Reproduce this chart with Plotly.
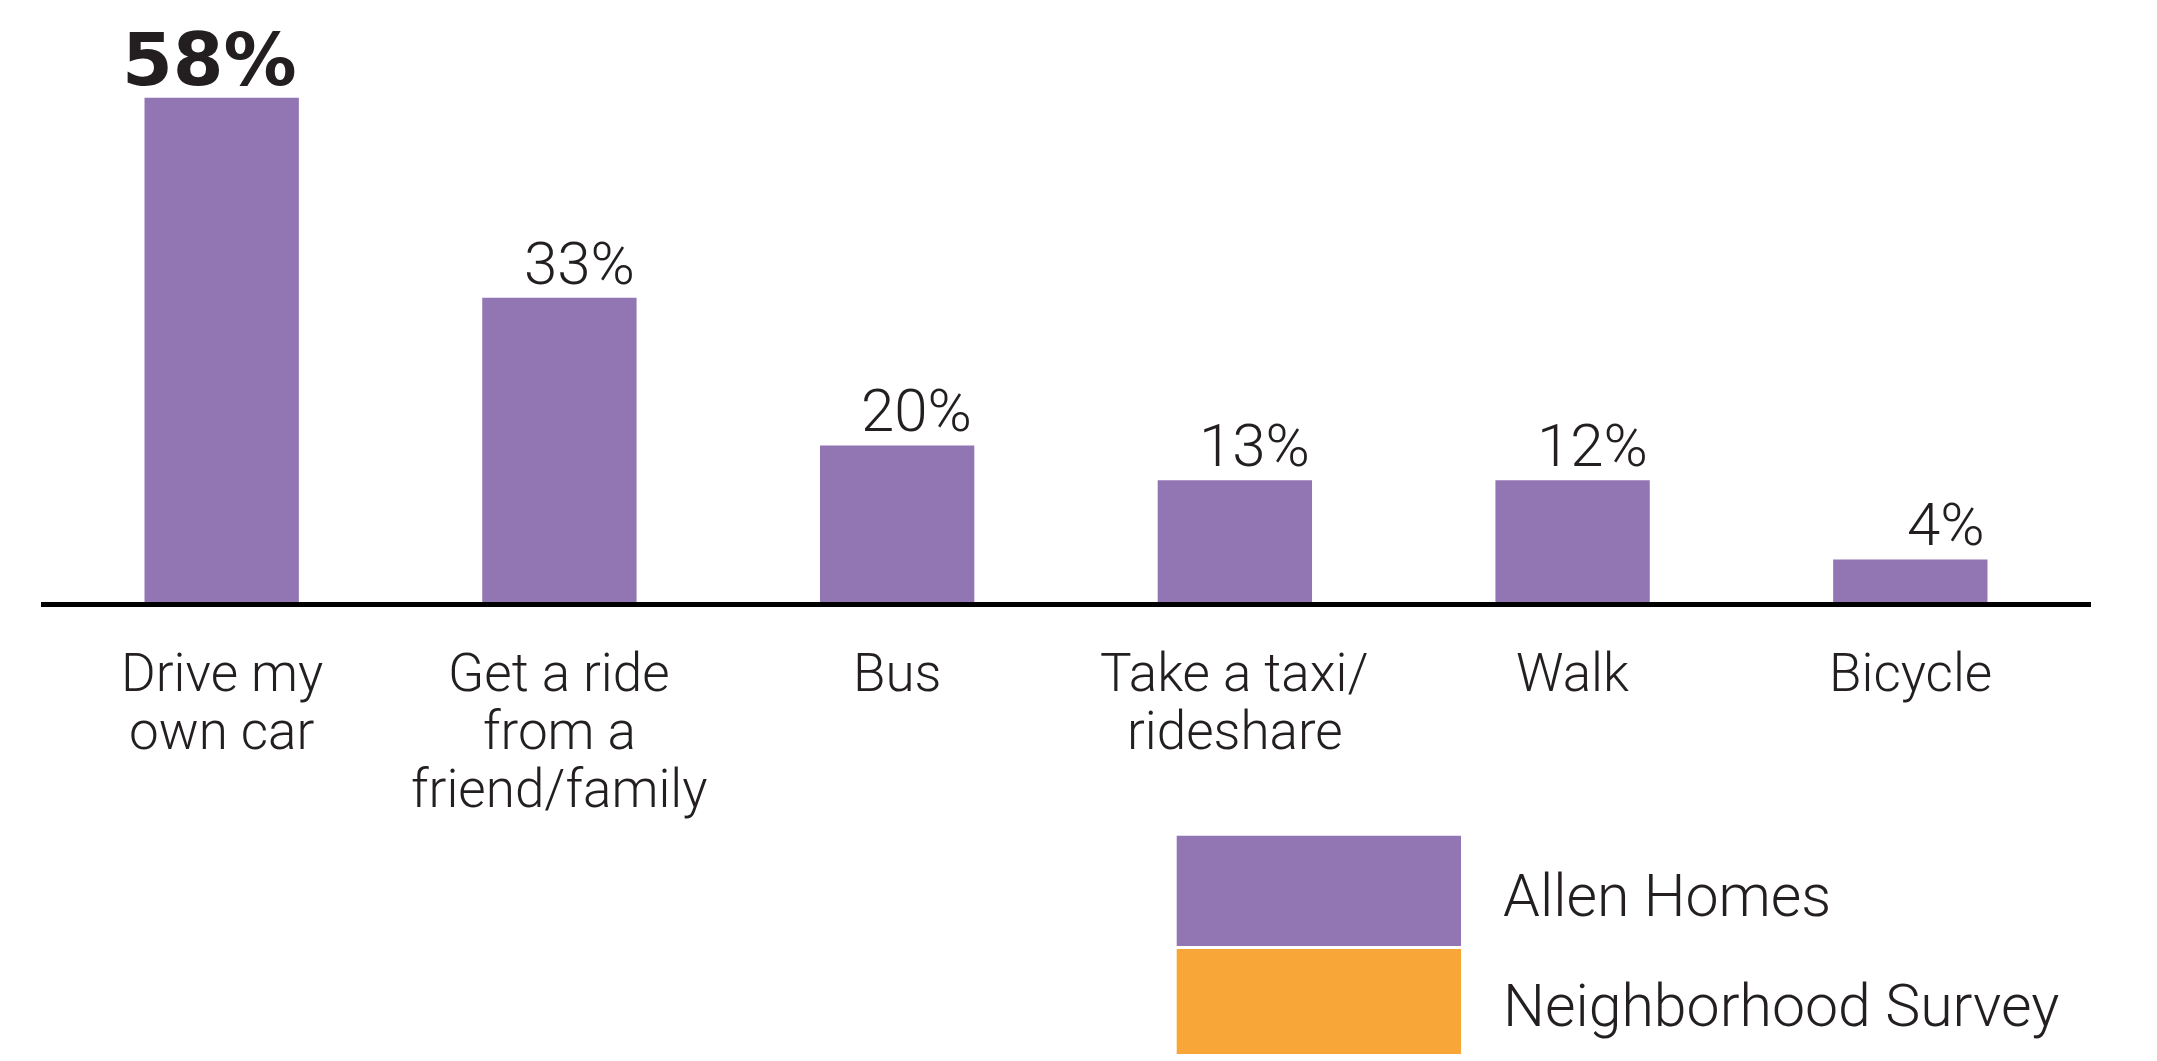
import plotly.graph_objects as go

# categories and values
categories = ["Drive my<br>own car", "Get a ride<br>from a<br>friend/family", "Bus",
              "Take a taxi/<br>rideshare", "Walk", "Bicycle"]
bar_heights = [58, 35, 18, 14, 14, 4.9]   # drawn heights (as measured on the picture)
value_labels = ["58%", "33%", "20%", "13%", "12%", "4%"]
legend_names = ["Allen Homes", "Neighborhood Survey"]

PURPLE = "#9275B3"
ORANGE = "#F9A638"
INK = "#231F20"
FONT = "Roboto"
BAR_W = 0.457

fig = go.Figure()

fig.add_trace(go.Bar(
    x=list(range(len(categories))),
    y=bar_heights,
    width=BAR_W,
    marker=dict(color=PURPLE, line=dict(width=0)),
    showlegend=False,
    hoverinfo="skip"
))

# value labels, right aligned to the bar edge; the first one is the headline
for i, (h, lab) in enumerate(zip(bar_heights, value_labels)):
    if i == 0:
        font = dict(family="DejaVu Sans", size=73, color=INK, weight=700)
        txt, shift = f"<b>{lab}</b>", -6
    else:
        font = dict(family=FONT, size=60, color=INK, weight=300)
        txt, shift = lab, -3
    fig.add_annotation(
        x=i + BAR_W / 2, y=h, xref="x", yref="y",
        text=txt, showarrow=False, xanchor="right", yanchor="bottom",
        yshift=shift, font=font,
    )

# category labels, one annotation per line for tight leading
for i, cat in enumerate(categories):
    for j, line in enumerate(cat.split("<br>")):
        fig.add_annotation(
            x=i, y=0, xref="x", yref="y",
            text=line, showarrow=False, xanchor="center", yanchor="middle",
            yshift=-71 - 58 * j,
            font=dict(family=FONT, size=53, color=INK, weight=300),
        )

# legend drawn as large swatches
legend_colors = [PURPLE, ORANGE]
box_y = [(-0.395, -0.581), (-0.586, -0.7635)]
for name, col, (y0, y1) in zip(legend_names, legend_colors, box_y):
    fig.add_shape(type="rect", xref="paper", yref="paper",
                  x0=0.554, x1=0.6927, y0=y1, y1=y0,
                  fillcolor=col, line=dict(width=0))
    fig.add_annotation(
        x=0.712, y=(y0 + y1) / 2 - 0.007, xref="paper", yref="paper",
        text=name, showarrow=False, xanchor="left", yanchor="middle",
        font=dict(family=FONT, size=59, color=INK, weight=300),
    )

fig.update_layout(
    width=2157, height=1061,
    margin=dict(l=41, r=66, t=10, b=459),
    paper_bgcolor="white",
    plot_bgcolor="white",
    bargap=0.543,
    xaxis=dict(range=[-0.535, len(categories) - 1 + 0.535], showticklabels=False,
               showgrid=False, zeroline=False, showline=True,
               linecolor="black", linewidth=5, ticks=""),
    yaxis=dict(range=[0, 68.08], visible=False, showgrid=False, zeroline=False),
    font=dict(family=FONT, color=INK),
)

fig.write_html("out.html", config={"displayModeBar": False},
               post_script="document.body.style.margin='0';")
